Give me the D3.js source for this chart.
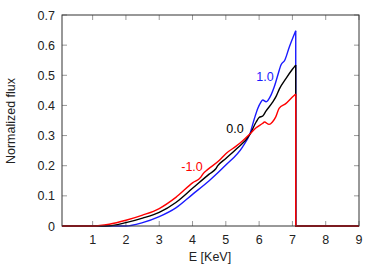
<!DOCTYPE html>
<html><head><meta charset="utf-8">
<script src="https://cdn.jsdelivr.net/npm/d3@7"></script>
<style>body{margin:0;background:#fff}svg{display:block}</style>
</head><body>
<svg id="c" width="382" height="267"></svg>
<script>
const xTicks = [1,2,3,4,5,6,7,8,9];
const yTicks = [0,0.1,0.2,0.3,0.4,0.5,0.6,0.7];
const edgeE = 7.1;
const seriesNames = ["1.0","0.0","-1.0"];
const blue = [[0.08,0],[2.0,0],[2.5,0.011],[3.0,0.031],[3.5,0.06],[4.0,0.105],[4.5,0.15],[5.0,0.202],[5.5,0.262],[5.72,0.305],[5.86,0.357],[5.96,0.39],[6.05,0.41],[6.11,0.418],[6.21,0.412],[6.36,0.435],[6.45,0.46],[6.56,0.5],[6.66,0.535],[6.77,0.55],[6.91,0.595],[7.1,0.648]];
const black = [[0.08,0],[1.4,0],[2.0,0.011],[2.5,0.026],[3.0,0.045],[3.5,0.078],[4.0,0.125],[4.5,0.172],[4.7,0.19],[4.76,0.2],[5.0,0.224],[5.3,0.254],[5.72,0.303],[5.91,0.345],[6.0,0.36],[6.11,0.365],[6.21,0.382],[6.4,0.41],[6.51,0.43],[6.61,0.455],[6.81,0.49],[7.0,0.52],[7.1,0.534]];
const red = [[0.08,0],[1.0,0],[1.5,0.006],[2.0,0.019],[2.5,0.036],[3.0,0.058],[3.5,0.095],[4.0,0.143],[4.25,0.162],[4.32,0.174],[4.45,0.187],[4.8,0.217],[5.0,0.24],[5.3,0.264],[5.5,0.282],[5.72,0.305],[5.9,0.325],[6.1,0.34],[6.16,0.345],[6.3,0.337],[6.4,0.345],[6.5,0.362],[6.6,0.39],[6.8,0.406],[7.0,0.428],[7.1,0.438]];

const svg = d3.select("#c");
const m = {l:62, r:359, t:15, b:226};
const x = d3.scaleLinear().domain([0.08,9]).range([m.l,m.r]);
const y = d3.scaleLinear().domain([0,0.7]).range([m.b,m.t]);
const font = "'Liberation Sans', Arial, sans-serif";
const fs = 12.5;

const g = svg.append("g");
const tl = 5;
xTicks.forEach(t=>{
  g.append("line").attr("x1",x(t)).attr("x2",x(t)).attr("y1",m.b).attr("y2",m.b-tl).attr("stroke","#999");
  g.append("line").attr("x1",x(t)).attr("x2",x(t)).attr("y1",m.t).attr("y2",m.t+tl).attr("stroke","#999");
  g.append("text").attr("x",x(t)).attr("y",m.b+18).attr("text-anchor","middle").attr("font-family",font).attr("font-size",fs).attr("fill","#222").text(t);
});
yTicks.forEach(t=>{
  g.append("line").attr("x1",m.l).attr("x2",m.l+tl).attr("y1",y(t)).attr("y2",y(t)).attr("stroke","#999");
  g.append("line").attr("x1",m.r).attr("x2",m.r-tl).attr("y1",y(t)).attr("y2",y(t)).attr("stroke","#999");
  g.append("text").attr("x",m.l-7).attr("y",y(t)+4.5).attr("text-anchor","end").attr("font-family",font).attr("font-size",fs).attr("fill","#222").text(t===0?"0":d3.format(".1f")(t));
});

const line = d3.line().x(d=>x(d[0])).y(d=>y(d[1])).curve(d3.curveMonotoneX);
const lin = d3.line().x(d=>x(d[0])).y(d=>y(d[1]));
const series = [{d:blue,c:"#1a1aff"},{d:black,c:"#000"},{d:red,c:"#ff0000"}];
series.forEach(s=>{
  g.append("path").attr("d",line(s.d)).attr("fill","none").attr("stroke",s.c).attr("stroke-width",1.4);
  const top = s.d[s.d.length-1][1];
  g.append("path").attr("d",lin([[edgeE,top],[edgeE,0],[9,0]])).attr("fill","none").attr("stroke",s.c).attr("stroke-width",1.4);
});

g.append("rect").attr("x",m.l).attr("y",m.t).attr("width",m.r-m.l).attr("height",m.b-m.t).attr("fill","none").attr("stroke","#333").attr("stroke-width",1);

const lab = (tx,ty,t,c)=>g.append("text").attr("x",tx).attr("y",ty).attr("font-family",font).attr("font-size",fs).attr("fill",c).attr("text-anchor","middle").text(t);
lab(265,81,seriesNames[0],"#1a1aff");
lab(235,133,seriesNames[1],"#000");
lab(192,171,seriesNames[2],"#ff0000");

g.append("text").attr("x",210).attr("y",261).attr("text-anchor","middle").attr("font-family",font).attr("font-size",fs).attr("fill","#222").text("E [KeV]");
g.append("text").attr("transform","translate(15,121) rotate(-90)").attr("text-anchor","middle").attr("font-family",font).attr("font-size",fs).attr("fill","#222").text("Normalized flux");
</script>
</body></html>
